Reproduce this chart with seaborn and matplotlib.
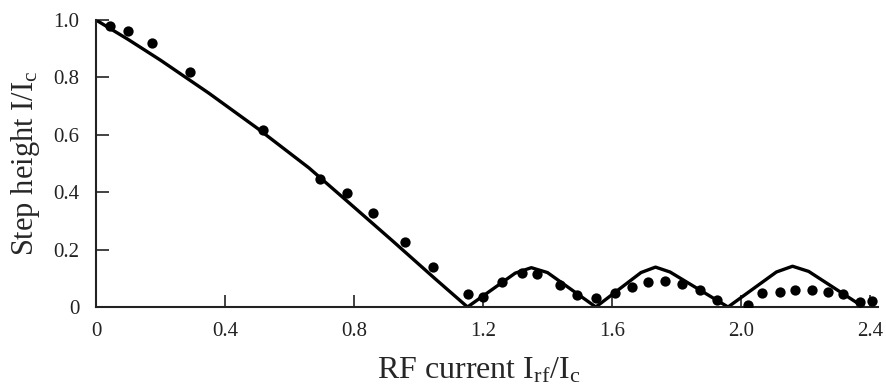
import matplotlib
matplotlib.use("Agg")
import matplotlib.pyplot as plt
import seaborn as sns
import pandas as pd

# Theory curve (solid line)
theory_x = [0.0, 0.1, 0.2, 0.35, 0.5, 0.66, 0.8, 0.92, 1.05, 1.152,
            1.30, 1.35, 1.40, 1.55, 1.69, 1.735, 1.78, 1.96, 2.11, 2.16, 2.21, 2.38]
theory_y = [1.0, 0.932, 0.860, 0.745, 0.623, 0.485, 0.348, 0.230, 0.100, 0.0,
            0.118, 0.137, 0.120, 0.0, 0.120, 0.139, 0.122, 0.0, 0.122, 0.142, 0.124, 0.0]

# Experimental points (dots)
exp_x = [0.043, 0.100, 0.173, 0.291, 0.519, 0.695, 0.779, 0.860, 0.958, 1.044,
         1.155, 1.201, 1.258, 1.320, 1.367, 1.439, 1.491, 1.552, 1.609, 1.661,
         1.713, 1.764, 1.816, 1.873, 1.925, 2.023, 2.064, 2.121, 2.167, 2.219,
         2.271, 2.318, 2.369, 2.405]
exp_y = [0.979, 0.963, 0.919, 0.820, 0.617, 0.445, 0.398, 0.326, 0.228, 0.141,
         0.045, 0.036, 0.086, 0.117, 0.115, 0.077, 0.042, 0.030, 0.048, 0.069,
         0.088, 0.092, 0.079, 0.059, 0.024, 0.007, 0.048, 0.053, 0.059, 0.059,
         0.053, 0.044, 0.018, 0.022]

x_ticks = [0, 0.4, 0.8, 1.2, 1.6, 2.0, 2.4]
x_tick_labels = ["0", "0.4", "0.8", "1.2", "1.6", "2.0", "2.4"]
y_ticks = [0, 0.2, 0.4, 0.6, 0.8, 1.0]
y_tick_labels = ["0", "0.2", "0.4", "0.6", "0.8", "1.0"]

sns.set_style("ticks")
plt.rcParams["font.family"] = ["Liberation Serif", "DejaVu Serif"]
plt.rcParams["mathtext.fontset"] = "custom"
plt.rcParams["mathtext.rm"] = "Liberation Serif"
plt.rcParams["mathtext.it"] = "Liberation Serif:italic"

fig = plt.figure(figsize=(8.86, 3.89), dpi=100)
ax = fig.add_axes([96/886, 82/389, 782/886, 287/389])

theory = pd.DataFrame({"x": theory_x, "y": theory_y})
exp = pd.DataFrame({"x": exp_x, "y": exp_y})

sns.lineplot(data=theory, x="x", y="y", ax=ax, color="black", linewidth=2.4,
             sort=False, estimator=None)
sns.scatterplot(data=exp, x="x", y="y", ax=ax, color="black", s=55,
                edgecolor="black", linewidth=0, zorder=3)

ax.set_xlim(0, 2.425)
ax.set_ylim(0, 1.0)
ax.set_xticks(x_ticks)
ax.set_xticklabels(x_tick_labels)
ax.set_yticks(y_ticks)
ax.set_yticklabels(y_tick_labels)
ax.tick_params(direction="in", length=9, width=1.2, labelsize=15, pad=12, colors="#222222")
ax.tick_params(axis="x", pad=11)
for s in ["top", "right"]:
    ax.spines[s].set_visible(False)
for s in ["left", "bottom"]:
    ax.spines[s].set_linewidth(1.5)
    ax.spines[s].set_color("#222222")

ax.set_xlabel(r"RF current I$_{\mathrm{rf}}$/I$_{\mathrm{c}}$", fontsize=23, labelpad=6)
ax.set_ylabel(r"Step height I/I$_{\mathrm{c}}$", fontsize=22, labelpad=8)
ax.xaxis.set_label_coords(0.49, -0.17)

fig.savefig("out.png", dpi=100)
